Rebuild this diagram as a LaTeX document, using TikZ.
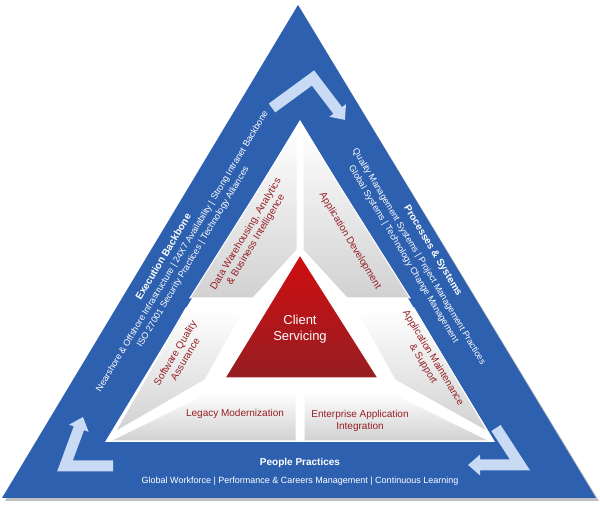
\documentclass[tikz,border=0pt]{standalone}
\usepackage{fontspec}
\setmainfont{Liberation Sans}
\usetikzlibrary{arrows.meta}
\definecolor{bandblue}{RGB}{46,96,176}
\definecolor{dred}{RGB}{150,30,35}
\definecolor{lblue}{RGB}{200,218,244}
\tikzset{
  panel/.style={top color=white,bottom color=black!18,draw=white,line width=1pt},
  plabel/.style={text=dred,font=\fontsize{10}{11.5}\selectfont,align=center,transform shape},
  wlabel/.style={text=white,font=\fontsize{9}{10}\selectfont,align=center,transform shape},
  wbold/.style={text=white,font=\bfseries\fontsize{10}{11}\selectfont,transform shape},
  bent/.style={draw=lblue,line width=11pt,-{Triangle[width=20pt,length=12pt]},line join=miter}
}
\begin{document}
\begin{tikzpicture}[x=1pt,y=1pt]
\useasboundingbox (0,0) rectangle (600,513);
% outer triangle
\path[fill=black!25] (300,505) -- (5,12) -- (599,12) -- cycle;
\path[fill=bandblue] (298,508) coordinate (T) -- (2,15) coordinate (L) -- (596,15) coordinate (R) -- cycle;
% inner white
\path[fill=white] (300,393) -- (105,71) -- (495,71) -- cycle;
% panels
\path[panel] (297,385) -- (297,263) -- (253,215) -- (190,215) -- cycle;
\path[panel] (303,385) -- (303,263) -- (347,215) -- (410,215) -- cycle;
\path[panel] (186,205) -- (245,205) -- (205,133) -- (115,81) -- cycle;
\path[panel] (355,205) -- (414,205) -- (488,81) -- (395,133) -- cycle;
\path[panel] (210,121) -- (296,121) -- (296,72) -- (110,72) -- cycle;
\path[panel] (304,121) -- (390,121) -- (490,72) -- (304,72) -- cycle;
% red triangle
\path[top color=red!55!dred,bottom color=dred,draw=white,line width=1pt] (300,258) -- (225,135) -- (378,135) -- cycle;
\node[text=white,font=\fontsize{13}{15.5}\selectfont,align=center] (cs) at (300,184) {Client\\Servicing};
% panel labels
\node[plabel,rotate=59] (dw) at (251,276) {Data Warehousing, Analytics\\\& Business Intelligence};
\node[plabel,rotate=-59] (ad) at (350,272) {Application Development};
\node[plabel,rotate=59] (sq) at (180,157) {Software Quality\\Assurance};
\node[plabel,rotate=-59] (am) at (428,152) {Application Maintenance\\\& Support};
\node[plabel] (lm) at (235,99) {Legacy Modernization};
\node[plabel] (ea) at (360,92) {Enterprise Application\\Integration};
% left band
\begin{scope}[shift={(2,15)},rotate=59.03]
\node[wbold] (eb) at (290,-14) {Execution Backbone};
\node[wlabel] (eb1) at (304,-28) {Nearshore \& Offshore Infrastructure | 24X7 Availability | Strong Intranet Backbone};
\node[wlabel] (eb2) at (305,-40) {ISO 27001 Security Practices | Technology Alliances};
\end{scope}
% right band
\begin{scope}[shift={(298,508)},rotate=-59.03]
\node[wbold] (ps) at (280,-11) {Processes \& Systems};
\node[wlabel] (ps1) at (278,-26) {Quality Management Systems | Project Management Practices};
\node[wlabel] (ps2) at (268,-38) {Global Systems | Technology Change Management};
\end{scope}
% bottom band
\node[wbold] (pp) at (300,50) {People Practices};
\node[wlabel] (pp1) at (300,32) {Global Workforce | Performance \& Careers Management | Continuous Learning};
% arrows
\coordinate (a1) at (272,405); \coordinate (a2) at (313,435); \coordinate (a3) at (345,393);
\draw[bent] (a1) -- (a2) -- (a3);
\coordinate (b1) at (113,47); \coordinate (b2) at (65,47); \coordinate (b3) at (83,96);
\draw[bent] (b1) -- (b2) -- (b3);
\coordinate (c1) at (496,85); \coordinate (c2) at (520,48); \coordinate (c3) at (468,48);
\draw[bent] (c1) -- (c2) -- (c3);
\end{tikzpicture}
\end{document}
